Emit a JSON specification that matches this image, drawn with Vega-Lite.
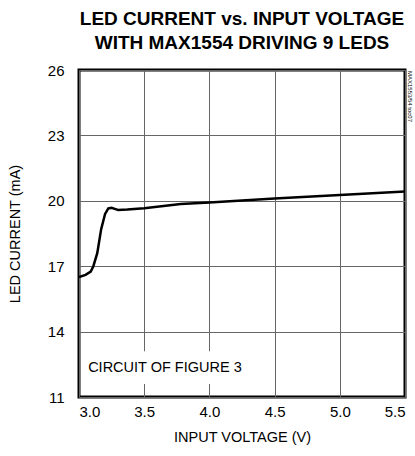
{
  "$schema": "https://vega.github.io/schema/vega-lite/v6.json",
  "width": 326,
  "height": 327,
  "autosize": "none",
  "padding": {"left": 79, "top": 70, "right": 10, "bottom": 59},
  "background": "white",
  "config": {
    "font": "Liberation Sans, Arial, sans-serif",
    "view": {"stroke": "black", "strokeWidth": 3}
  },
  "title": {
    "text": ["LED CURRENT vs. INPUT VOLTAGE", "WITH MAX1554 DRIVING 9 LEDS"],
    "font": "Liberation Sans, Arial, sans-serif",
    "fontSize": 19,
    "fontWeight": "bold",
    "lineHeight": 24,
    "color": "black",
    "anchor": "middle",
    "offset": 10
  },
  "datasets": {
    "curve": [
      {"v": 3.0, "i": 16.5},
      {"v": 3.05, "i": 16.6},
      {"v": 3.09, "i": 16.75},
      {"v": 3.11, "i": 17.0},
      {"v": 3.14, "i": 17.6},
      {"v": 3.17, "i": 18.7},
      {"v": 3.2, "i": 19.4},
      {"v": 3.225, "i": 19.65},
      {"v": 3.25, "i": 19.68},
      {"v": 3.28, "i": 19.62},
      {"v": 3.3, "i": 19.58},
      {"v": 3.37, "i": 19.6},
      {"v": 3.5, "i": 19.66},
      {"v": 3.78, "i": 19.85},
      {"v": 4.0, "i": 19.92},
      {"v": 4.5, "i": 20.1},
      {"v": 5.0, "i": 20.27},
      {"v": 5.5, "i": 20.43}
    ],
    "note": [{"x1": 3.04, "x2": 4.1, "y1": 11.6, "y2": 13.1, "tx": 3.07, "ty": 12.35, "label": "CIRCUIT OF FIGURE 3"}],
    "code": [{"x": 5.5, "y": 26, "label": "MAX1553/54 toc07"}]
  },
  "layer": [
    {
      "data": {"name": "curve"},
      "mark": {"type": "line", "color": "black", "strokeWidth": 2.5, "clip": true},
      "encoding": {
        "x": {
          "field": "v", "type": "quantitative",
          "scale": {"domain": [3.0, 5.5], "nice": false, "zero": false},
          "axis": {
            "values": [3.0, 3.5, 4.0, 4.5, 5.0, 5.5],
            "format": ".1f",
            "title": "INPUT VOLTAGE (V)",
            "grid": true, "gridColor": "#666", "gridWidth": 1, "gridOpacity": 1,
            "domain": false, "ticks": false,
            "labelFontSize": 15, "labelColor": "black", "labelPadding": 7,
            "titleFontSize": 14.5, "titleFontWeight": "normal", "titleColor": "black", "titlePadding": 11
          }
        },
        "y": {
          "field": "i", "type": "quantitative",
          "scale": {"domain": [11, 26], "nice": false, "zero": false},
          "axis": {
            "values": [11, 14, 17, 20, 23, 26],
            "title": "LED CURRENT (mA)",
            "grid": true, "gridColor": "#666", "gridWidth": 1, "gridOpacity": 1,
            "domain": false, "ticks": false,
            "labelFontSize": 15, "labelColor": "black", "labelPadding": 15,
            "titleFontSize": 14.5, "titleFontWeight": "normal", "titleColor": "black", "titlePadding": 25
          }
        }
      }
    },
    {
      "data": {"name": "note"},
      "mark": {"type": "rect", "color": "white"},
      "encoding": {
        "x": {"field": "x1", "type": "quantitative"},
        "x2": {"field": "x2"},
        "y": {"field": "y1", "type": "quantitative"},
        "y2": {"field": "y2"}
      }
    },
    {
      "data": {"name": "note"},
      "mark": {"type": "text", "align": "left", "baseline": "middle", "fontSize": 14.5, "color": "black"},
      "encoding": {
        "x": {"field": "tx", "type": "quantitative"},
        "y": {"field": "ty", "type": "quantitative"},
        "text": {"field": "label"}
      }
    },
    {
      "data": {"name": "code"},
      "mark": {"type": "text", "align": "left", "baseline": "middle", "angle": 90, "fontSize": 6, "dx": 1, "dy": -5, "color": "black"},
      "encoding": {
        "x": {"field": "x", "type": "quantitative"},
        "y": {"field": "y", "type": "quantitative"},
        "text": {"field": "label"}
      }
    }
  ]
}
